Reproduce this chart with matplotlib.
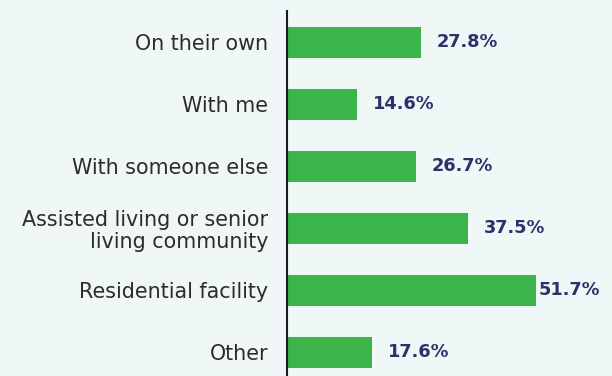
import matplotlib.pyplot as plt

categories = ['On their own', 'With me', 'With someone else',
              'Assisted living or senior\nliving community',
              'Residential facility', 'Other']
values = [27.8, 14.6, 26.7, 37.5, 51.7, 17.6]

bg = '#eff8f6'
green = '#3bb54a'
navy = '#2b3169'

fig = plt.figure(figsize=(6.12, 3.76), dpi=100, facecolor=bg)
ax = fig.add_axes([0.469, 0.0, 0.531, 365 / 376], facecolor=bg)

xmax = 67.4
pos = range(len(categories))
ax.barh(pos, values, height=0.5, color=green)
for y, v in zip(pos, values):
    # labels near the right edge sit tight against the bar end
    gap = 3.3 if v + 3.3 + 12.5 < xmax else 0.4
    ax.text(v + gap, y, f'{v}%', va='center', ha='left', fontsize=12.8,
            fontweight='bold', color=navy)

ax.set_xlim(0, xmax)
ax.set_ylim(5.387, -0.5)
ax.set_yticks(list(pos))
ax.set_yticklabels(categories, fontsize=14.9, color='#2c2c2c', linespacing=1.1)
ax.tick_params(axis='y', length=0, pad=13.5)
ax.set_xticks([])
for side in ['top', 'right', 'bottom']:
    ax.spines[side].set_visible(False)
ax.spines['left'].set_color('#1a1a2a')
ax.spines['left'].set_linewidth(1.5)

fig.savefig('out.png', dpi=100, facecolor=bg)
